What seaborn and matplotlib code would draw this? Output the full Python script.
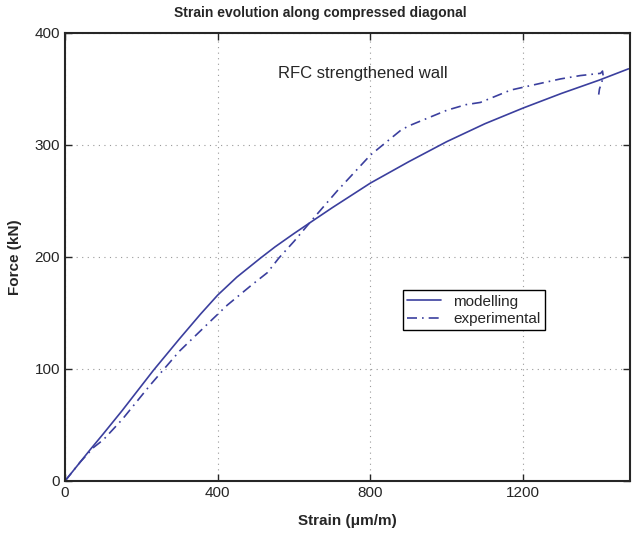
import matplotlib
matplotlib.use("Agg")
import matplotlib.pyplot as plt
import seaborn as sns
import pandas as pd

# Data
mod_strain = [0, 66, 100, 150, 232, 300, 355, 400, 450, 512, 550, 600, 652, 700, 750, 800,
              900, 1000, 1100, 1200, 1300, 1400, 1476]
mod_force = [0, 28, 42, 63, 99, 127, 149, 166, 182, 199, 209, 221, 233, 244, 255, 266,
             285, 303, 319, 333, 346, 358, 368]

exp_strain = [0, 40, 75, 101, 150, 224, 300, 385, 425, 489, 530, 560, 600, 652, 713, 800,
              879, 900, 950, 1000, 1050, 1088, 1167, 1245, 1298, 1350, 1403, 1408, 1410,
              1406, 1400, 1398]
exp_force = [0, 17, 30, 37, 55, 86, 116, 144, 157, 175, 186, 199, 214, 235, 259, 291,
             313, 317, 324, 331, 336, 338, 349, 355, 359, 362, 364, 366, 361,
             356, 350, 345]

xticks = [0, 400, 800, 1200]
yticks = [0, 100, 200, 300, 400]

sns.set_style("ticks")
plt.rcParams['font.family'] = ['Liberation Sans', 'DejaVu Sans']

df_mod = pd.DataFrame({"strain": mod_strain, "force": mod_force})
df_exp = pd.DataFrame({"strain": exp_strain, "force": exp_force})

fig = plt.figure(figsize=(6.35, 5.33), dpi=100)
ax = fig.add_axes([65/635, 52/533, 565/635, 448/533])

color = "#3b3f9e"
sns.lineplot(data=df_mod, x="strain", y="force", ax=ax, color=color, lw=1.2,
             sort=False, estimator=None, label="modelling")
sns.lineplot(data=df_exp, x="strain", y="force", ax=ax, color=color, lw=1.2,
             sort=False, estimator=None, label="experimental", linestyle=(0, (6, 3, 1, 3)))

ax.set_xlim(0, 1480)
ax.set_ylim(0, 400)
ax.set_xticks(xticks)
ax.set_yticks(yticks)
ax.tick_params(direction="in", top=True, right=True, labelsize=11, length=5, width=1)
ax.grid(True, linestyle=(0, (1, 4)), color="#999999", lw=0.8)
for s in ax.spines.values():
    s.set_linewidth(1.5)
    s.set_visible(True)

fig.text(320/635, 1 - 13/533, "Strain evolution along compressed diagonal",
         fontsize=10, fontweight="bold", ha="center", va="center")
ax.set_xlabel("Strain (μm/m)", fontsize=11, fontweight="bold", labelpad=10)
ax.set_ylabel("Force (kN)", fontsize=11, fontweight="bold", labelpad=9)

ax.text(559, 364, "RFC strengthened wall", fontsize=12, ha="left", va="center")

leg = ax.legend(loc="lower left", bbox_to_anchor=(0.598, 0.336), fontsize=11, frameon=True,
                fancybox=False, edgecolor="black", framealpha=1, borderpad=0.3,
                handlelength=2.2, labelspacing=0.2, borderaxespad=0)
leg.get_frame().set_linewidth(1.0)

fig.savefig("out.png", dpi=100)
